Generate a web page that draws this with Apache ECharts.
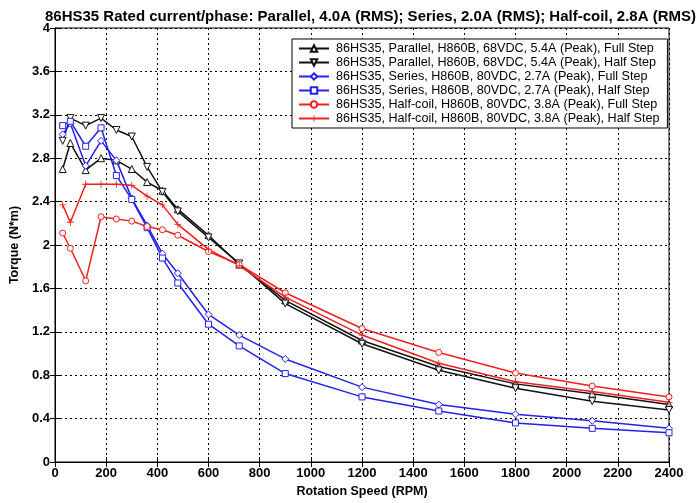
<!DOCTYPE html>
<html><head><meta charset="utf-8">
<script src="https://cdn.jsdelivr.net/npm/echarts@6/dist/echarts.min.js"></script>
<style>html,body{margin:0;padding:0;background:#fff;}#c{width:700px;height:503px;}</style>
</head><body><div id="c"></div>
<script>
const rpm = [30,60,120,180,240,300,360,420,480,600,720,900,1200,1500,1800,2100,2400];
const parallelFull = [2.70,2.94,2.69,2.80,2.78,2.70,2.58,2.50,2.33,2.09,1.82,1.49,1.12,0.88,0.72,0.63,0.53];
const parallelHalf = [2.96,3.17,3.10,3.17,3.06,3.00,2.72,2.49,2.31,2.07,1.83,1.46,1.09,0.845,0.68,0.56,0.48];
const seriesFull = [3.02,3.12,2.73,2.96,2.78,2.43,2.18,1.92,1.74,1.36,1.17,0.95,0.69,0.53,0.44,0.38,0.31];
const seriesHalf = [3.10,3.14,2.91,3.08,2.64,2.42,2.16,1.88,1.65,1.27,1.07,0.815,0.60,0.47,0.36,0.31,0.27];
const halfcoilFull = [2.11,1.97,1.67,2.26,2.24,2.22,2.17,2.14,2.09,1.94,1.82,1.56,1.23,1.01,0.82,0.70,0.60];
const halfcoilHalf = [2.37,2.21,2.56,2.56,2.56,2.55,2.45,2.37,2.19,1.96,1.81,1.52,1.17,0.91,0.74,0.65,0.55];
const seriesNames = [
  '86HS35, Parallel, H860B, 68VDC, 5.4A (Peak), Full Step',
  '86HS35, Parallel, H860B, 68VDC, 5.4A (Peak), Half Step',
  '86HS35, Series, H860B, 80VDC, 2.7A (Peak), Full Step',
  '86HS35, Series, H860B, 80VDC, 2.7A (Peak), Half Step',
  '86HS35, Half-coil, H860B, 80VDC, 3.8A (Peak), Full Step',
  '86HS35, Half-coil, H860B, 80VDC, 3.8A (Peak), Half Step'
];
const titleText = '86HS35 Rated current/phase: Parallel, 4.0A (RMS); Series, 2.0A (RMS); Half-coil, 2.8A (RMS)';

const BLACK = '#111111', BLUE = '#2222ee', RED = '#f02020';
const downTri = 'path://M0,0 L10,0 L5,9 Z';
const upTri = 'path://M5,0 L10,9 L0,9 Z';
const plus = 'path://M4.4,0 L5.6,0 L5.6,4.4 L10,4.4 L10,5.6 L5.6,5.6 L5.6,10 L4.4,10 L4.4,5.6 L0,5.6 L0,4.4 L4.4,4.4 Z';

function mk(name, vals, color, symbol, size, filled) {
  return {
    name: name, type: 'line', data: rpm.map((x, i) => [x, vals[i]]),
    symbol: symbol, symbolSize: size, showAllSymbol: true,
    lineStyle: { color: color, width: 1.5 },
    itemStyle: { color: filled ? color : '#fff', borderColor: color, borderWidth: filled ? 0 : 1 },
    emphasis: { disabled: true }, animation: false
  };
}
const font = 'Liberation Sans, Arial, sans-serif';
const chart = echarts.init(document.getElementById('c'));
chart.setOption({
  animation: false,
  backgroundColor: '#fff',
  title: { text: titleText, left: 40, top: 4, textStyle: { fontFamily: font, fontSize: 15, fontWeight: 'bold', color: '#000' } },
  grid: { left: 55, right: 31, top: 28, bottom: 38, show: true, borderColor: '#000', borderWidth: 1 },
  legend: {
    orient: 'vertical', left: 292, top: 39,
    backgroundColor: '#fff', borderColor: '#000', borderWidth: 1,
    padding: [3, 8, 3, 6], itemGap: 1, itemWidth: 30, itemHeight: 8,
    textStyle: { fontFamily: font, fontSize: 12.6, color: '#000', padding: [0,0,0,2] },
    data: seriesNames
  },
  xAxis: [{
    type: 'value', min: 0, max: 2400, interval: 200,
    name: 'Rotation Speed (RPM)', nameLocation: 'middle', nameGap: 23,
    nameTextStyle: { fontFamily: font, fontSize: 12.5, fontWeight: 'bold', color: '#000' },
    axisLine: { lineStyle: { color: '#000' } },
    axisTick: { inside: true, length: 5, lineStyle: { color: '#000' } },
    axisLabel: { fontFamily: font, fontSize: 13, fontWeight: 'bold', color: '#000', margin: 5, formatter: v => String(v) },
    splitLine: { show: true, lineStyle: { color: '#000', type: [2, 3], width: 1 } }
  }, {
    type: 'value', position: 'top', min: 0, max: 2400, interval: 200,
    axisLine: { lineStyle: { color: '#000' } },
    axisTick: { inside: true, length: 5, lineStyle: { color: '#000' } },
    axisLabel: { show: false }, splitLine: { show: false }
  }],
  yAxis: [{
    type: 'value', min: 0, max: 4, interval: 0.4,
    name: 'Torque (N*m)', nameLocation: 'middle', nameGap: 34,
    nameTextStyle: { fontFamily: font, fontSize: 12.5, fontWeight: 'bold', color: '#000' },
    axisLine: { show: true, lineStyle: { color: '#000' } },
    axisTick: { show: true, inside: true, length: 5, lineStyle: { color: '#000' } },
    axisLabel: { fontFamily: font, fontSize: 13, fontWeight: 'bold', color: '#000', margin: 5, formatter: v => String(Math.round(v * 10) / 10) },
    splitLine: { show: true, lineStyle: { color: '#000', type: [2, 3], width: 1 } }
  }, {
    type: 'value', position: 'right', min: 0, max: 4, interval: 0.4,
    axisLine: { show: true, lineStyle: { color: '#000' } },
    axisTick: { show: true, inside: true, length: 5, lineStyle: { color: '#000' } },
    axisLabel: { show: false }, splitLine: { show: false }
  }],
  series: [
    mk(seriesNames[0], parallelFull, BLACK, upTri, 7, false),
    mk(seriesNames[1], parallelHalf, BLACK, downTri, 7, false),
    mk(seriesNames[2], seriesFull, BLUE, 'diamond', 7, false),
    mk(seriesNames[3], seriesHalf, BLUE, 'rect', 6, false),
    mk(seriesNames[4], halfcoilFull, RED, 'circle', 6, false),
    mk(seriesNames[5], halfcoilHalf, RED, plus, 7, true)
  ]
});
</script></body></html>
